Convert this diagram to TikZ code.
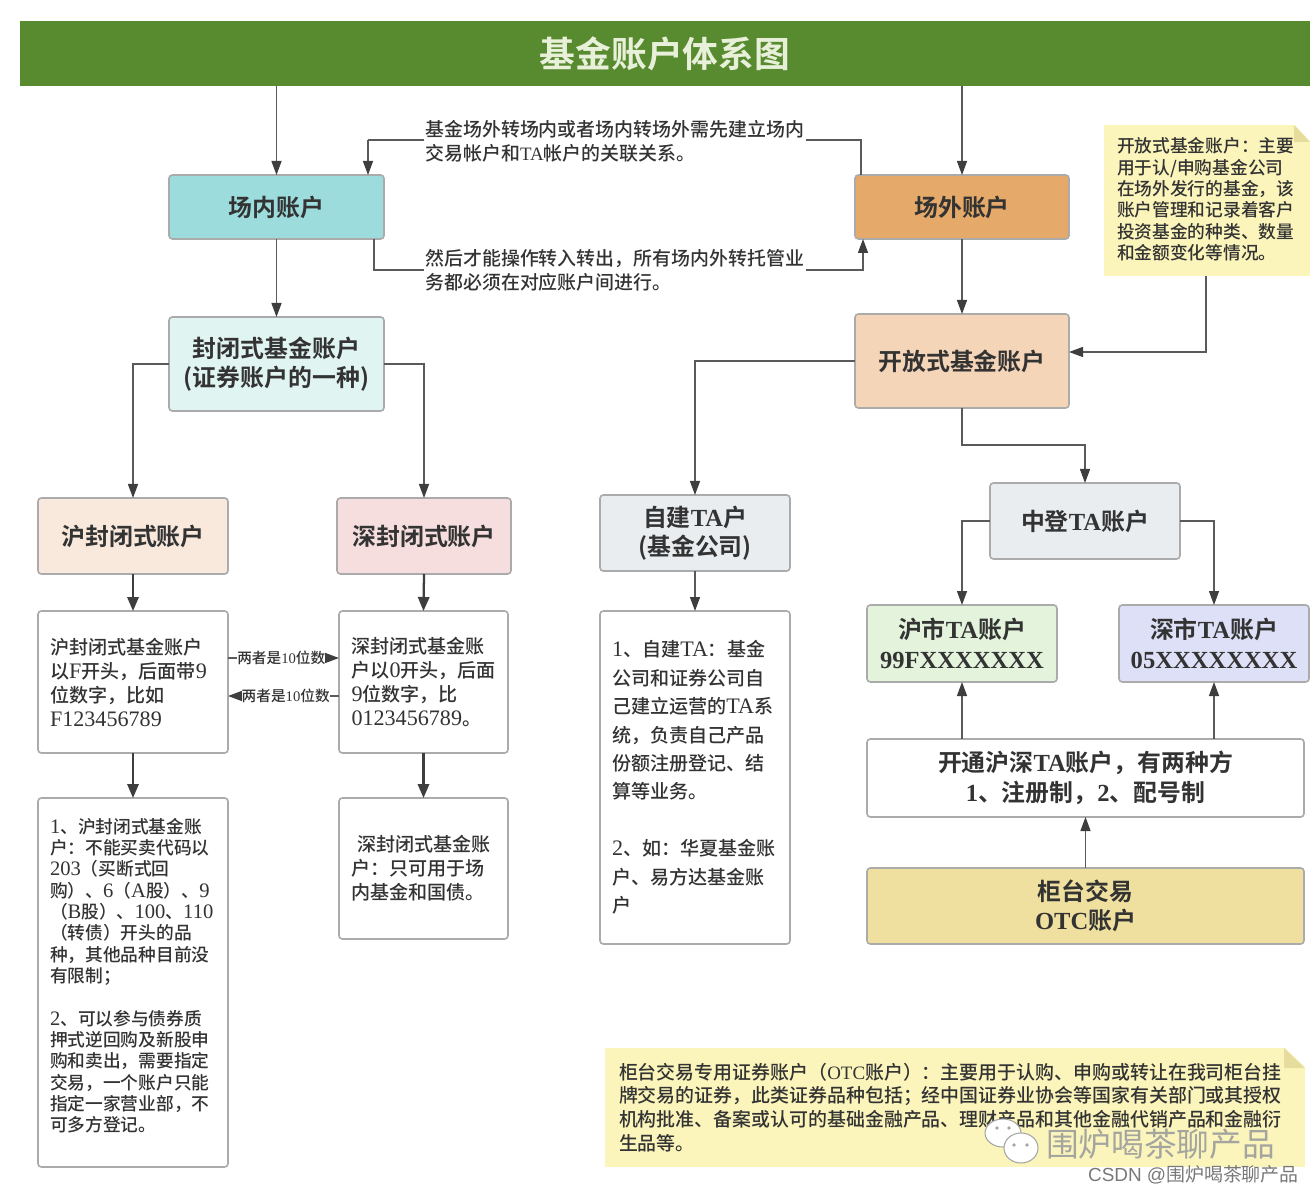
\documentclass[tikz,border=0pt]{standalone}
\usepackage{fontspec}
\setmainfont{Noto Sans CJK SC Medium}
\newfontfamily\lat{Liberation Serif}[Scale=1.16]
\newfontfamily\nlat{Liberation Serif}[Scale=1.0]
\newfontfamily\hlat{Liberation Serif Bold}[Scale=1.03]
\newfontfamily\headfont{Noto Sans CJK SC Bold}
\newfontfamily\csdnfont{Liberation Sans}
\newfontfamily\cjkthin{Noto Sans CJK SC}
\newcommand\ltn[1]{{\lat #1}}
\newcommand\nltn[1]{{\nlat #1}}
\newcommand\hltn[1]{{\hlat #1}}
\newcommand\tailsp[1]{\\[#1]\mbox{}}
\usetikzlibrary{arrows.meta,calc}
\definecolor{ink}{HTML}{333333}
\definecolor{wire}{HTML}{5A5A5A}
\definecolor{tipk}{HTML}{3E3E3E}
\definecolor{edge}{HTML}{ABABAB}
\definecolor{noteY}{HTML}{FBF5BC}
\definecolor{foldY}{HTML}{E5DC9E}
\tikzset{
  x=0.75pt,y=-0.75pt,
  boxat/.style n args={4}{at={({(#1+#3)/2},{(#2+#4)/2})},
     minimum width={(#3-#1)*0.75pt},minimum height={(#4-#2)*0.75pt}},
  basebox/.style={draw=edge,line width=1.2pt,rounded corners=2.5pt,inner sep=0pt,outer sep=0pt,text=ink,align=center},
  headbox/.style={basebox,font=\fontsize{17.9}{22}\selectfont\headfont},
  detail/.style={basebox,fill=white,align=left},
  body/.style={font=\fontsize{14.3}{18}\selectfont},
  small/.style={font=\fontsize{13.3}{16}\selectfont},
  conn/.style={draw=wire,line width=1pt,-{Triangle[length=10.5pt,width=7.5pt,color=tipk]}},
  connb/.style={draw=tipk,line width=1.7pt,-{Triangle[length=10.5pt,width=8.5pt,color=tipk]}},
  notebox/.style={fill=noteY,draw=none,inner sep=0pt,outer sep=0pt,text=ink,align=left},
  midtext/.style={text=ink,inner sep=0pt,outer sep=1pt,align=left,font=\fontsize{14.2}{18}\selectfont},
  dbl/.style={fill=white,text=ink,inner sep=0pt,font=\fontsize{11}{12}\selectfont},
}
\begin{document}
\begin{tikzpicture}
\useasboundingbox (0,0) rectangle (1314,1194);
% ---- boxes
\node[boxat={20}{21}{1310}{86},fill={rgb,255:red,88;green,138;blue,47},inner sep=0pt,outer sep=0pt,text={rgb,255:red,232;green,240;blue,218},font=\fontsize{26.8}{30}\selectfont\headfont] (title) {基金账户体系图};
\node[headbox,boxat={169}{175}{384}{239},fill={rgb,255:red,157;green,220;blue,220}] (inner) {场内账户};
\node[headbox,boxat={855}{175}{1069}{239},fill={rgb,255:red,229;green,169;blue,105}] (outer) {场外账户};
\node[headbox,boxat={169}{317}{384}{411},fill={rgb,255:red,224;green,244;blue,242}] (closed) {封闭式基金账户\\(证券账户的一种)};
\node[headbox,boxat={855}{314}{1069}{408},fill={rgb,255:red,244;green,213;blue,184}] (open) {开放式基金账户};
\node[headbox,boxat={38}{498}{228}{574},fill={rgb,255:red,249;green,233;blue,220}] (hu) {沪封闭式账户};
\node[headbox,boxat={337}{498}{511}{574},fill={rgb,255:red,246;green,222;blue,222}] (shen) {深封闭式账户};
\node[headbox,boxat={600}{495}{790}{571},fill={rgb,255:red,233;green,237;blue,240}] (self) {自建\hltn{TA}户\\(基金公司)};
\node[headbox,boxat={990}{483}{1180}{559},fill={rgb,255:red,233;green,237;blue,240}] (zd) {中登\hltn{TA}账户};
\node[headbox,boxat={867}{605}{1057}{682},fill={rgb,255:red,228;green,244;blue,220}] (huta) {沪市\hltn{TA}账户\\\hltn{99FXXXXXXX}};
\node[headbox,boxat={1119}{605}{1309}{682},fill={rgb,255:red,221;green,224;blue,246}] (shenta) {深市\hltn{TA}账户\\\hltn{05XXXXXXXX}};
\node[headbox,boxat={867}{739}{1304}{817},fill=white] (kt) {开通沪深\hltn{TA}账户，有两种方\\\hltn{1}、注册制，\hltn{2}、配号制};
\node[headbox,boxat={867}{868}{1304}{944},fill={rgb,255:red,239;green,224;blue,160}] (otc) {柜台交易\\\hltn{OTC}账户};
% ---- detail boxes
\node[detail,body,boxat={38}{611}{228}{753},text width=124.5pt] (hud) {沪封闭式基金账户\\以\ltn{F}开头，后面带\ltn{9}\\位数字，比如\\\ltn{F123456789}};
\node[detail,body,boxat={339}{611}{508}{753},text width=108pt] (shend) {深封闭式基金账\\户以\ltn{0}开头，后面\\\ltn{9}位数字，比\\\ltn{0123456789}。};
\node[detail,font=\fontsize{13.3}{16}\selectfont,boxat={38}{798}{228}{1167},text width=124.5pt] (hux) {\ltn{1}、沪封闭式基金账\\户：不能买卖代码以\\\ltn{203}（买断式回\\购）、\ltn{6}（\ltn{A}股）、\ltn{9}\\（\ltn{B}股）、\ltn{100}、\ltn{110}\\（转债）开头的品\\种，其他品种目前没\\有限制；\\[16pt]\ltn{2}、可以参与债券质\\押式逆回购及新股申\\购和卖出，需要指定\\交易，一个账户只能\\指定一家营业部，不\\可多方登记。\tailsp{-4.5pt}};
\node[detail,body,boxat={339}{798}{508}{939},text width=108pt] (shenx) {\hspace*{4.5pt}深封闭式基金账\\户：只可用于场\\内基金和国债。};
\node[detail,font=\fontsize{14.3}{21.3}\selectfont,boxat={600}{611}{790}{944},text width=124.5pt] (selfd) {\ltn{1}、自建\ltn{TA}：基金\\公司和证券公司自\\己建立运营的\ltn{TA}系\\统，负责自己产品\\份额注册登记、结\\算等业务。\\[21.3pt]\ltn{2}、如：华夏基金账\\户、易方达基金账\\户};
% ---- notes
\node[notebox,small,boxat={1104}{125}{1310}{276},text width=135pt] (note1) {开放式基金账户：主要\\用于认/申购基金公司\\在场外发行的基金，该\\账户管理和记录着客户\\投资基金的种类、数量\\和金额变化等情况。\tailsp{-13pt}};
\fill[white] (1294,124) -- (1311,124) -- (1311,142) -- cycle;
\fill[foldY] (1294,125) -- (1310,142) -- (1294,142) -- cycle;
\node[notebox,boxat={605}{1048}{1305}{1167},text width=504pt,font=\fontsize{14.2}{17.7}\selectfont] (note2) {柜台交易专用证券账户（\nltn{OTC}账户）：主要用于认购、申购或转让在我司柜台挂\\牌交易的证券，此类证券品种包括；经中国证券业协会等国家有关部门或其授权\\机构批准、备案或认可的基础金融产品、理财产品和其他金融代销产品和金融衍\\生品等。\tailsp{-16.2pt}};
\fill[white] (1284,1047) -- (1306,1047) -- (1306,1068) -- cycle;
\fill[foldY] (1284,1048) -- (1305,1068) -- (1284,1068) -- cycle;
% ---- connector texts
\node[midtext,anchor=north west] (t1) at (424,119) {基金场外转场内或者场内转场外需先建立场内\\交易帐户和\nltn{TA}帐户的关联关系。};
\node[midtext,anchor=north west] (t2) at (424,248) {然后才能操作转入转出，所有场内外转托管业\\务都必须在对应账户间进行。};
% ---- helper points
\coordinate (t1l) at (424,140);
\coordinate (t1r) at (806,140);
\coordinate (t2l) at (424,270);
\coordinate (t2r) at (806,270);
\coordinate (inA) at (368,175);
\coordinate (outA) at (861,175);
\coordinate (inB) at (374,239);
\coordinate (outB) at (863,239);
\coordinate (hdA) at (228,658);
\coordinate (sdA) at (339,658);
\coordinate (hdB) at (228,696);
\coordinate (sdB) at (339,696);
\coordinate (n1b) at (1206,276);
\coordinate (o1) at (1069,352);
% ---- connectors
\draw[conn] (title.south -| inner.north) -- (inner.north);
\draw[conn] (title.south -| outer.north) -- (outer.north);
\draw[conn] (inner) -- (closed);
\draw[conn] (outer) -- (open);
\draw[wire,line width=1pt] (t1l) -- (t1l -| inA);
\draw[conn] (t1l -| inA) -- (inA);
\draw[wire,line width=1pt] (outA) |- (t1r);
\draw[wire,line width=1pt] (inB) |- (t2l);
\draw[conn] (t2r) -| (outB);
\draw[conn] (closed.west) -| (hu.north);
\draw[conn] (closed.east) -| (shen.north);
\draw[conn] (open.west) -| (self.north);
\draw[conn] (open.south) -- ++(0,37) -| (zd.north);
\draw[conn] (n1b) |- (o1);
\draw[connb] (hu) -- (hud);
\draw[connb] (shen.south) -- (shend.north);
\draw[connb] (hud) -- (hux);
\draw[connb] (shend) -- (shenx);
\draw[conn] (self) -- (selfd);
\draw[conn] (zd.west) -| (huta.north);
\draw[conn] (zd.east) -| (shenta.north);
\draw[conn] (kt.north -| huta.south) -- (huta.south);
\draw[conn] (kt.north -| shenta.south) -- (shenta.south);
\draw[conn] (otc) -- (kt);
\draw[conn] (hdA) -- node[dbl,pos=.48] (l1) {两者是\nltn{10}位数} (sdA);
\draw[conn] (sdB) -- node[dbl,pos=.48] (l2) {两者是\nltn{10}位数} (hdB);
% ---- watermark
\draw[draw=gray!70,fill=white,line width=0.8pt] (1003,1133) ellipse [x radius=18,y radius=14];
\draw[draw=gray!70,fill=white,line width=0.8pt] (1021,1148) ellipse [x radius=17,y radius=15];
\fill[gray!70] (997,1128) circle (1.8) (1009,1128) circle (1.8) (1014,1145) circle (1.8) (1027,1145) circle (1.8);
\node[inner sep=0pt,text={rgb,255:red,165;green,165;blue,160},font=\fontsize{24.5}{28}\selectfont\cjkthin,anchor=west] (wm) at (1046,1144) {围炉喝茶聊产品};
\node[inner sep=0pt,text={rgb,255:red,120;green,120;blue,120},font=\fontsize{14.2}{16}\selectfont\cjkthin,anchor=east] (csdn) at (1299,1175) {{\csdnfont CSDN @}围炉喝茶聊产品};
\end{tikzpicture}
\end{document}
